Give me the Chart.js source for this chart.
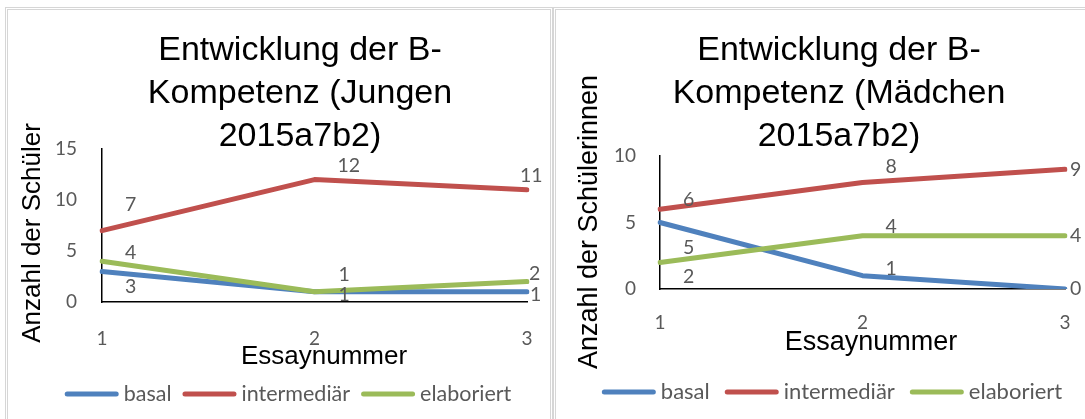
<!DOCTYPE html>
<html lang="de">
<head>
<meta charset="utf-8">
<title>Entwicklung der B-Kompetenz 2015a7b2</title>
<script src="https://cdn.jsdelivr.net/npm/chart.js@4/dist/chart.umd.min.js"></script>
<style>
  html, body { margin: 0; padding: 0; background: #fff; }
  body { width: 1085px; height: 419px; overflow: hidden; position: relative; }
  .box { position: absolute; border: 3px double #d6d6d6; box-sizing: border-box; }
  .wrap { position: absolute; }
</style>
</head>
<body>
<div class="box" style="left:5px;top:7px;width:548px;height:440px"></div>
<div class="box" style="left:553px;top:7px;width:600px;height:440px"></div>
<div class="wrap" style="left:8px;top:10px;width:541px;height:409px"><canvas id="jungen"></canvas></div>
<div class="wrap" style="left:556px;top:10px;width:529px;height:409px"><canvas id="maedchen"></canvas></div>
<script>
// Essay numbers on the x axis
const essays = ['1', '2', '3'];
const seriesNames = ['basal', 'intermediär', 'elaboriert'];

// Boys: number of pupils per competence level
const jungenBasal = [3, 1, 1];
const jungenIntermediaer = [7, 12, 11];
const jungenElaboriert = [4, 1, 2];
const jungenTicks = [0, 5, 10, 15];

// Girls: number of pupils per competence level
const maedchenBasal = [5, 1, 0];
const maedchenIntermediaer = [6, 8, 9];
const maedchenElaboriert = [2, 4, 4];
const maedchenTicks = [0, 5, 10];

const seriesColors = ['#4f81bd', '#c0504d', '#9bbb59'];
const FONT_SANS = '"Liberation Sans", Arial, sans-serif';
const FONT_LABEL = 'Lato, "Open Sans", sans-serif';
const GREY = '#595959';

// Value labels next to every point
const valueLabels = {
  id: 'valueLabels',
  afterDatasetsDraw(chart, args, o) {
    const ctx = chart.ctx;
    ctx.save();
    ctx.font = o.size + 'px ' + FONT_LABEL;
    ctx.fillStyle = GREY;
    ctx.textAlign = 'left';
    ctx.textBaseline = 'middle';
    chart.data.datasets.forEach((ds, di) => {
      const meta = chart.getDatasetMeta(di);
      meta.data.forEach((pt, i) => {
        const off = o.offsets[di][i];
        ctx.fillText(String(ds.data[i]), pt.x + off[0], pt.y + off[1]);
      });
    });
    ctx.restore();
  }
};

// Chart title, axis titles and the line legend
const decor = {
  id: 'decor',
  afterDraw(chart, args, o) {
    const ctx = chart.ctx;
    ctx.save();
    ctx.fillStyle = '#000';
    ctx.textAlign = 'center';
    ctx.textBaseline = 'alphabetic';
    ctx.font = o.titleSize + 'px ' + FONT_SANS;
    o.title.forEach((line, i) => ctx.fillText(line, o.titleX, o.titleY + i * o.titleGap));

    ctx.font = o.axisSize + 'px ' + FONT_SANS;
    ctx.textBaseline = 'middle';
    ctx.fillText(o.xTitle, o.xTitleX, o.xTitleY);
    ctx.save();
    ctx.translate(o.yTitleX, o.yTitleY);
    ctx.rotate(-Math.PI / 2);
    ctx.fillText(o.yTitle, 0, 0);
    ctx.restore();

    ctx.font = o.legendSize + 'px ' + FONT_LABEL;
    const items = chart.data.datasets.map(ds => ({
      text: ds.label, color: ds.borderColor, w: ctx.measureText(ds.label).width
    }));
    const total = items.reduce((s, it) => s + o.legendLine + o.legendTextGap + it.w, 0)
      + o.legendItemGap * (items.length - 1);
    let x = o.legendX - total / 2;
    ctx.textAlign = 'left';
    items.forEach(it => {
      ctx.strokeStyle = it.color;
      ctx.lineWidth = 5;
      ctx.lineCap = 'round';
      ctx.beginPath();
      ctx.moveTo(x + 2.5, o.legendY);
      ctx.lineTo(x + o.legendLine - 2.5, o.legendY);
      ctx.stroke();
      x += o.legendLine + o.legendTextGap;
      ctx.fillStyle = GREY;
      ctx.fillText(it.text, x, o.legendY);
      x += it.w + o.legendItemGap;
    });
    ctx.restore();
  }
};

function makeDatasets(values) {
  return values.map((v, i) => ({
    label: seriesNames[i],
    data: v,
    borderColor: seriesColors[i],
    backgroundColor: seriesColors[i],
    borderWidth: 5,
    borderJoinStyle: 'round',
    borderCapStyle: 'round',
    pointRadius: 0,
    pointHoverRadius: 0,
    tension: 0,
    order: values.length - i
  }));
}

function makeChart(id, values, ticks, layout, deco, labelOffsets) {
  return new Chart(document.getElementById(id), {
    type: 'line',
    data: { labels: essays, datasets: makeDatasets(values) },
    plugins: [valueLabels, decor],
    options: {
      responsive: true,
      maintainAspectRatio: false,
      animation: false,
      events: [],
      layout: { padding: { top: layout.top, left: 0, right: layout.right, bottom: 0 } },
      scales: {
        x: {
          type: 'category',
          offset: false,
          // tick marks stay hidden; their length only sets the label distance
          grid: { display: false, drawTicks: true, tickLength: layout.xPad },
          border: { display: true, color: '#000', width: 1.5 },
          ticks: { color: GREY, font: { family: FONT_LABEL, size: 19 }, padding: 0, maxRotation: 0 },
          afterFit: s => { s.height = layout.xHeight; }
        },
        y: {
          min: ticks[0],
          max: ticks[ticks.length - 1],
          grid: { display: false, drawTicks: true, tickLength: layout.yPad },
          border: { display: true, color: '#000', width: 1.5 },
          ticks: { color: GREY, font: { family: FONT_LABEL, size: 19 }, padding: 0 },
          afterBuildTicks: s => { s.ticks = ticks.map(v => ({ value: v })); },
          afterFit: s => { s.width = layout.yWidth; }
        }
      },
      plugins: {
        legend: { display: false },
        title: { display: false },
        tooltip: { enabled: false },
        valueLabels: { size: 19.5, offsets: labelOffsets },
        decor: deco
      }
    }
  });
}

makeChart('jungen',
  [jungenBasal, jungenIntermediaer, jungenElaboriert],
  jungenTicks,
  { top: 139, right: 22, yWidth: 94, xHeight: 117, xPad: 25, yPad: 25 },
  {
    title: ['Entwicklung der B-', 'Kompetenz (Jungen', '2015a7b2)'],
    titleSize: 34, titleX: 292, titleY: 50, titleGap: 43,
    axisSize: 26,
    xTitle: 'Essaynummer', xTitleX: 316, xTitleY: 347,
    yTitle: 'Anzahl der Schüler', yTitleX: 25, yTitleY: 223,
    legendSize: 21.5, legendX: 280, legendY: 384,
    legendLine: 54, legendTextGap: 5, legendItemGap: 11
  },
  [
    [[23, 15], [24, 3], [3, 3]],
    [[23, -26], [23, -14], [-7, -14]],
    [[23, -8], [24, -17], [2, -8]]
  ]
);

makeChart('maedchen',
  [maedchenBasal, maedchenIntermediaer, maedchenElaboriert],
  maedchenTicks,
  { top: 146, right: 20, yWidth: 104, xHeight: 130, xPad: 22, yPad: 24 },
  {
    title: ['Entwicklung der B-', 'Kompetenz (Mädchen', '2015a7b2)'],
    titleSize: 34, titleX: 283, titleY: 50, titleGap: 43,
    axisSize: 27,
    xTitle: 'Essaynummer', xTitleX: 315, xTitleY: 333,
    yTitle: 'Anzahl der Schülerinnen', yTitleX: 34, yTitleY: 212,
    legendSize: 22, legendX: 276, legendY: 382,
    legendLine: 54, legendTextGap: 5, legendItemGap: 15
  },
  [
    [[23, 25], [23, -7], [5, 0]],
    [[23, -9], [23, -16], [5, 0]],
    [[23, 14], [23, -9], [5, 0]]
  ]
);
</script>
</body>
</html>
